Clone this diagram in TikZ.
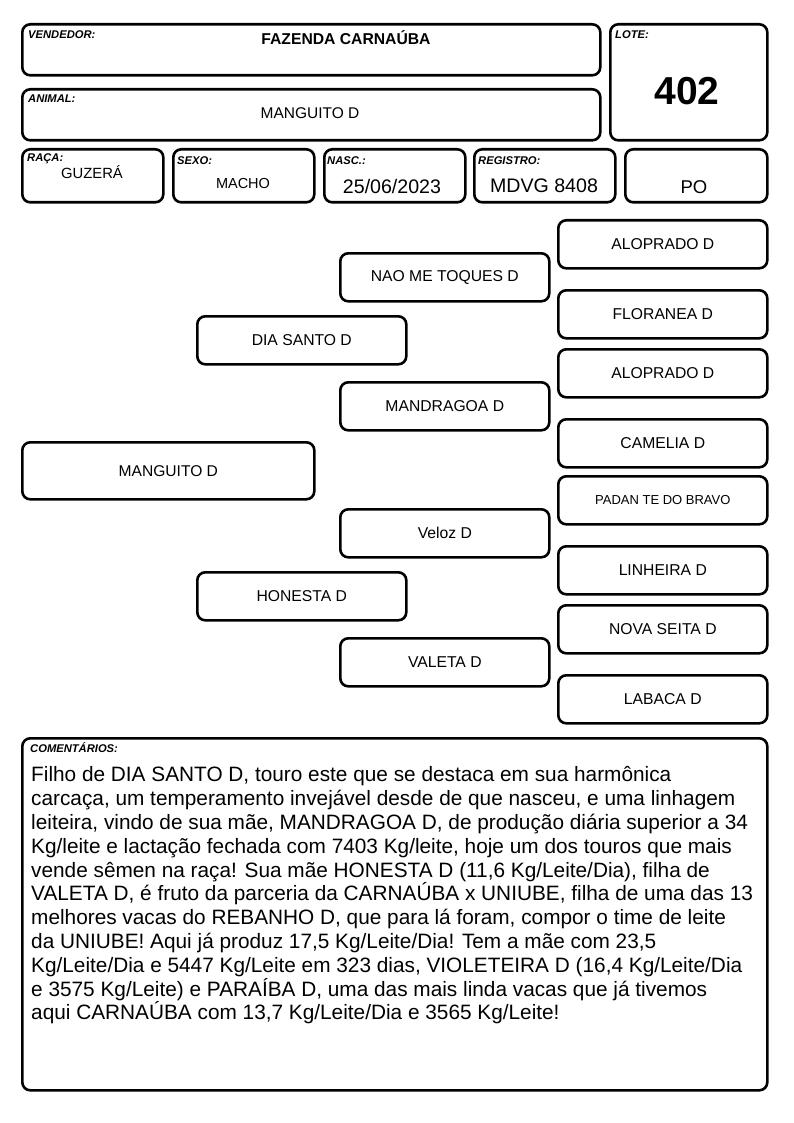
\documentclass[tikz,border=0pt]{standalone}
\usepackage{fontspec}
\setmainfont{Liberation Sans}
\begin{document}
\begin{tikzpicture}[x=1pt,y=-1pt,
  card/.style={draw, line width=2.6pt, rounded corners=8pt, anchor=north west, inner sep=0pt, minimum width=#1},
  card/.default=209pt,
  lbl/.style={anchor=base west, inner sep=0pt, font=\fontsize{11.2}{13}\selectfont\bfseries\itshape},
  val/.style={inner sep=0pt, font=\fontsize{15.5}{18}\selectfont},
  ped/.style={card=209pt, minimum height=48pt, font=\fontsize{15.7}{18}\selectfont}
]
\useasboundingbox (0,0) rectangle (794,1123);
% header cards
\node[card=578pt, minimum height=51pt] (vend) at (21,23) {};
\node[card=578pt, minimum height=51pt] (anim) at (21,88) {};
\node[card=157pt, minimum height=116pt] (lote) at (609,23) {};
\node[card=141pt, minimum height=53pt] (raca) at (21,148) {};
\node[card=141pt, minimum height=53pt] (sexo) at (172,148) {};
\node[card=141pt, minimum height=53pt] (nasc) at (323,148) {};
\node[card=141pt, minimum height=53pt] (regi) at (473,148) {};
\node[card=142pt, minimum height=53pt] (po) at (624,148) {};
% labels
\node[lbl] (lvend) at (28,39) {VENDEDOR:};
\node[lbl] (lanim) at (28,103) {ANIMAL:};
\node[lbl] (llote) at (615,39) {LOTE:};
\node[lbl] (lraca) at (27,162) {RAÇA:};
\node[lbl] (lsexo) at (177,165) {SEXO:};
\node[lbl] (lnasc) at (327,165) {NASC.:};
\node[lbl] (lregi) at (478,165) {REGISTRO:};
% values
\node[val, font=\fontsize{15.7}{18}\selectfont\bfseries] (tvend) at (346,38) {FAZENDA CARNAÚBA};
\node[val] (tanim) at (310,113) {MANGUITO D};
\node[val, font=\fontsize{39}{44}\selectfont\bfseries] (tlote) at (687,91) {402};
\node[val, font=\fontsize{14.8}{17}\selectfont] (traca) at (92,172) {GUZERÁ};
\node[val, font=\fontsize{14.5}{17}\selectfont] (tsexo) at (243,184) {MACHO};
\node[val, font=\fontsize{19.6}{22}\selectfont] (tnasc) at (392,186) {25/06/2023};
\node[val, font=\fontsize{19.6}{22}\selectfont] (tregi) at (544,186) {MDVG 8408};
\node[val, font=\fontsize{18.5}{21}\selectfont] (tpo) at (694,187) {PO};
% pedigree
\node[card=292pt, minimum height=57pt, font=\fontsize{15.6}{18}\selectfont] (p0) at (21,441) {MANGUITO D};
\node[ped] (p1) at (196,315) {DIA SANTO D};
\node[ped] (p2) at (196,571) {HONESTA D};
\node[ped] (p11) at (339,252) {NAO ME TOQUES D};
\node[ped] (p12) at (339,381) {MANDRAGOA D};
\node[ped] (p21) at (339,508) {Veloz D};
\node[ped] (p22) at (339,637) {VALETA D};
\node[ped] (p111) at (557,219) {ALOPRADO D};
\node[ped] (p112) at (557,289) {FLORANEA D};
\node[ped] (p121) at (557,348) {ALOPRADO D};
\node[ped] (p122) at (557,418) {CAMELIA D};
\node[ped, font=\fontsize{13}{15}\selectfont] (p211) at (557,475) {PADAN TE DO BRAVO};
\node[ped] (p212) at (557,545) {LINHEIRA D};
\node[ped] (p221) at (557,604) {NOVA SEITA D};
\node[ped] (p222) at (557,674) {LABACA D};
% comments
\node[card=745pt, minimum height=352pt] (com) at (21,737) {};
\node[lbl] (lcom) at (30,752) {COMENTÁRIOS:};
\node[anchor=north west, inner sep=0pt, align=left, font=\fontsize{20.8}{23.8}\selectfont] (tcom) at (31,766.5) {Filho de DIA SANTO D, touro este que se destaca em sua harmônica\\
carcaça, um temperamento invejável desde de que nasceu, e uma linhagem\\
leiteira, vindo de sua mãe, MANDRAGOA D, de produção diária superior a 34\\
Kg/leite e lactação fechada com 7403 Kg/leite, hoje um dos touros que mais\\
vende sêmen na raça! Sua mãe HONESTA D (11,6 Kg/Leite/Dia), filha de\\
VALETA D, é fruto da parceria da CARNAÚBA x UNIUBE, filha de uma das 13\\
melhores vacas do REBANHO D, que para lá foram, compor o time de leite\\
da UNIUBE! Aqui já produz 17,5 Kg/Leite/Dia! Tem a mãe com 23,5\\
Kg/Leite/Dia e 5447 Kg/Leite em 323 dias, VIOLETEIRA D (16,4 Kg/Leite/Dia\\
e 3575 Kg/Leite) e PARAÍBA D, uma das mais linda vacas que já tivemos\\
aqui CARNAÚBA com 13,7 Kg/Leite/Dia e 3565 Kg/Leite!};
\end{tikzpicture}
\end{document}
